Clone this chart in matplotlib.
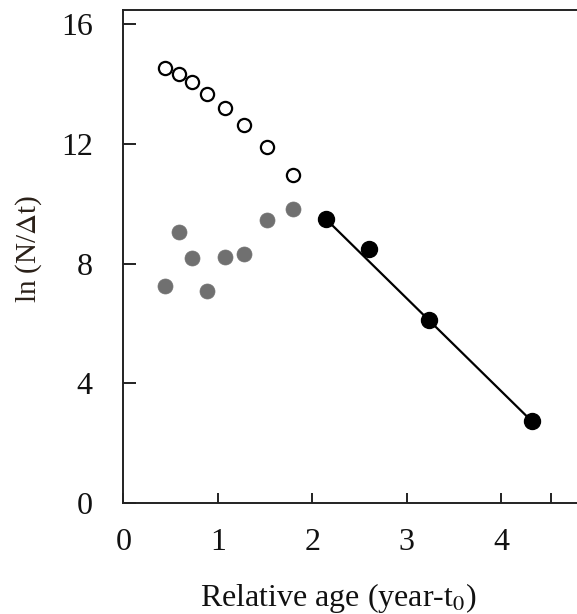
import matplotlib
matplotlib.use("Agg")
import matplotlib.pyplot as plt

# Data
age_young = [0.44, 0.59, 0.73, 0.89, 1.08, 1.28, 1.52, 1.80]
ln_open = [14.56, 14.35, 14.06, 13.69, 13.22, 12.64, 11.91, 10.96]
ln_gray = [7.25, 9.05, 8.20, 7.09, 8.24, 8.34, 9.46, 9.84]
age_old = [2.145, 2.60, 3.23, 4.32]
ln_black = [9.49, 8.49, 6.12, 2.74]
xticks = [0, 1, 2, 3, 4, 4.52]
xticklabels = ["0", "1", "2", "3", "4", ""]
yticks = [0, 4, 8, 12, 16]

plt.rcParams['font.family'] = ['Liberation Serif', 'DejaVu Serif']
plt.rcParams['mathtext.fontset'] = 'stix'

W, H = 577, 614
fig = plt.figure(figsize=(W / 100, H / 100), dpi=100)
left = 123.3 / W
bottom = (H - 503.0) / H
top = (H - 9.5) / H
ax = fig.add_axes([left, bottom, 1 - left, top - bottom])

ax.plot([age_old[0], age_old[-1]], [ln_black[0], ln_black[-1]], color='black', lw=1.6, zorder=2)
ax.plot(age_young, ln_open, linestyle='none', marker='o', markersize=9.5,
        markerfacecolor='white', markeredgecolor='black', markeredgewidth=1.6, zorder=3)
ax.plot(age_young, ln_gray, linestyle='none', marker='o', markersize=10.8,
        markerfacecolor='#707070', markeredgecolor='#707070', markeredgewidth=0.5, zorder=3)
ax.plot(age_old, ln_black, linestyle='none', marker='o', markersize=11.5,
        markerfacecolor='black', markeredgecolor='black', zorder=4)

ax.set_xlim(0, 4.8)
ax.set_ylim(0, 16.5)
ax.spines['right'].set_visible(False)
for s in ['left', 'bottom', 'top']:
    ax.spines[s].set_linewidth(1.4)
    ax.spines[s].set_color('#222222')

ax.set_xticks(xticks)
ax.set_xticklabels(xticklabels)
ax.set_yticks(yticks)
ax.tick_params(axis='both', direction='in', width=1.4, color='#222222',
               labelsize=23, labelcolor='#111111')
ax.tick_params(axis='y', length=9, pad=22)
ax.tick_params(axis='x', length=7, pad=18)

fig.text(338 / W, 1 - 606 / H, 'Relative age (year-t$_{0}$)', ha='center', va='baseline',
         fontsize=23, color='#111111')
fig.text(29 / W, 1 - 249 / H, 'ln (N/$\\Delta$t)', ha='center', va='center',
         rotation=90, fontsize=21, color='#2a2018')

fig.savefig('out.png', dpi=100)
